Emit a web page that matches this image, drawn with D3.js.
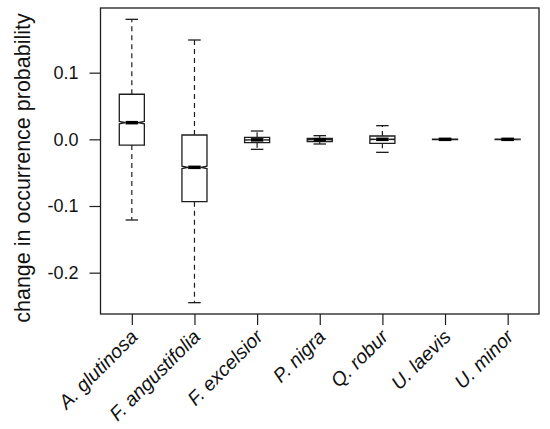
<!DOCTYPE html>
<html>
<head>
<meta charset="utf-8">
<script src="https://cdn.jsdelivr.net/npm/d3@7"></script>
<style>
  body { margin: 0; background: #fff; }
  svg { font-family: "Liberation Sans", Arial, sans-serif; }
</style>
</head>
<body>
<div id="chart"></div>
<script>
// species and box statistics
const species = ["A. glutinosa", "F. angustifolia", "F. excelsior", "P. nigra", "Q. robur", "U. laevis", "U. minor"];
const whiskerLow  = [-0.121, -0.245, -0.015, -0.007, -0.0195, -0.0009, -0.0009];
const lowerQuart  = [-0.0086, -0.0935, -0.005, -0.0035, -0.006, -0.0003, -0.0003];
const medians     = [0.025, -0.042, -0.0008, -0.0005, 0.0, 0.0, 0.0];
const upperQuart  = [0.0676, 0.0065, 0.003, 0.0015, 0.005, 0.0003, 0.0003];
const whiskerHigh = [0.180, 0.149, 0.0125, 0.0055, 0.0205, 0.0009, 0.0009];
const notchLow    = [0.0232, -0.0438, -0.0013, -0.0009, -0.0005, -0.0002, -0.0002];
const notchHigh   = [0.0268, -0.0402, -0.0003, -0.0001, 0.0005, 0.0002, 0.0002];
const yTicks = [-0.2, -0.1, 0.0, 0.1];

const width = 550, height = 429;
const plotLeft = 100.5, plotRight = 539, plotTop = 8, plotBottom = 314;

const svg = d3.select("#chart").append("svg")
  .attr("width", width).attr("height", height);

const x = d3.scalePoint().domain(species).range([plotLeft, plotRight]).padding(0.5);
const y = d3.scaleLinear().domain([-0.262, 0.197]).range([plotBottom, plotTop]);

const half = x.step() * 0.2;   // box half width
const staple = half * 0.5;
const ink = "#1e1e1e";

const boxes = species.map((s, i) => ({
  name: s, lo: whiskerLow[i], q1: lowerQuart[i], med: medians[i],
  q3: upperQuart[i], hi: whiskerHigh[i], nlo: notchLow[i], nhi: notchHigh[i]
}));

const g = svg.selectAll("g.box").data(boxes).enter().append("g").attr("class", "box");

g.each(function(d) {
  const grp = d3.select(this);
  const cx = x(d.name);

  // dashed whiskers + staples
  [[d.q3, d.hi], [d.q1, d.lo]].forEach(([a, b]) => {
    if (Math.abs(y(a) - y(b)) > 0.5) {
      grp.append("line")
        .attr("x1", cx).attr("x2", cx)
        .attr("y1", y(a)).attr("y2", y(b))
        .attr("stroke", ink).attr("stroke-width", 1.2)
        .attr("stroke-dasharray", "5,4");
    }
    grp.append("line")
      .attr("x1", cx - staple).attr("x2", cx + staple)
      .attr("y1", y(b)).attr("y2", y(b))
      .attr("stroke", ink).attr("stroke-width", 1.3);
  });

  // notched box
  const pts = [
    [cx - half, y(d.q1)], [cx + half, y(d.q1)], [cx + half, y(d.nlo)],
    [cx + half * 0.5, y(d.med)], [cx + half, y(d.nhi)], [cx + half, y(d.q3)],
    [cx - half, y(d.q3)], [cx - half, y(d.nhi)], [cx - half * 0.5, y(d.med)],
    [cx - half, y(d.nlo)]
  ];
  grp.append("path")
    .attr("d", d3.line()(pts) + "Z")
    .attr("fill", "white").attr("stroke", ink).attr("stroke-width", 1.3);

  // median
  grp.append("line")
    .attr("x1", cx - half * 0.5).attr("x2", cx + half * 0.5)
    .attr("y1", y(d.med)).attr("y2", y(d.med))
    .attr("stroke", "#000").attr("stroke-width", 3.5);
});

// frame
svg.append("rect")
  .attr("x", plotLeft).attr("y", plotTop)
  .attr("width", plotRight - plotLeft).attr("height", plotBottom - plotTop)
  .attr("fill", "none").attr("stroke", ink).attr("stroke-width", 1.3);

// y axis
const yAxis = svg.append("g")
  .attr("transform", `translate(${plotLeft},0)`)
  .call(d3.axisLeft(y).tickValues(yTicks).tickSize(11).tickPadding(11)
    .tickFormat(d => d3.format(".1f")(d).replace("\u2212", "-")));
yAxis.select(".domain").remove();
yAxis.selectAll("line").attr("stroke", ink).attr("stroke-width", 1.2);
yAxis.selectAll("text").attr("font-size", 18).attr("fill", "#111")
  .attr("font-family", "Liberation Sans, Arial, sans-serif");

// x axis ticks
const xAxis = svg.append("g")
  .attr("transform", `translate(0,${plotBottom})`)
  .call(d3.axisBottom(x).tickSize(11).tickFormat(""));
xAxis.select(".domain").remove();
xAxis.selectAll("line").attr("stroke", ink).attr("stroke-width", 1.2);

// rotated species labels
svg.selectAll(".xlab").data(species).enter().append("text")
  .attr("class", "xlab")
  .attr("transform", d => `translate(${x(d) + 7},${plotBottom + 24}) rotate(-45)`)
  .attr("text-anchor", "end")
  .attr("font-size", 19.5)
  .attr("font-style", "italic")
  .attr("fill", "#111")
  .text(d => d);

// y title
svg.append("text")
  .attr("transform", `translate(30,168) rotate(-90)`)
  .attr("text-anchor", "middle")
  .attr("font-size", 21.5)
  .attr("fill", "#111")
  .text("change in occurrence probability");
</script>
</body>
</html>
